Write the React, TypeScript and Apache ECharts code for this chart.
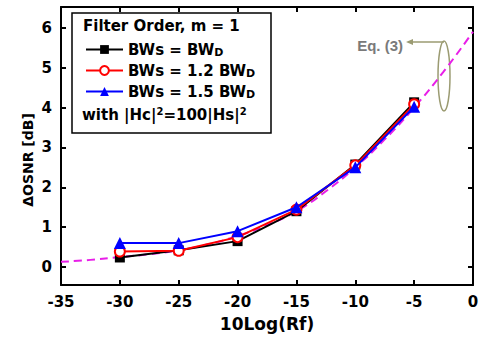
import React, { useEffect, useRef } from "react";
import * as echarts from "echarts";

const xValues = [-30, -25, -20, -15, -10, -5];
const bwD = [0.24, 0.42, 0.65, 1.4, 2.57, 4.13];
const bw12 = [0.39, 0.41, 0.75, 1.44, 2.55, 4.08];
const bw15 = [0.6, 0.6, 0.9, 1.5, 2.5, 4.02];
const eqX = [-35, -32.5, -30, -27.5, -25, -22.5, -20, -17.5, -15, -12.5, -10, -7.5, -5, -2.5, 0];
const eqY = [0.13, 0.18, 0.25, 0.32, 0.42, 0.57, 0.78, 1.05, 1.4, 1.9, 2.5, 3.2, 4.0, 4.9, 5.9];
const yTicks = [0, 1, 2, 3, 4, 5, 6];
const seriesNames = ["BWs = BWD", "BWs = 1.2 BWD", "BWs = 1.5 BWD"];

const FONT = "DejaVu Sans, sans-serif";

export default function App() {
  const ref = useRef<HTMLDivElement>(null);
  useEffect(() => {
    if (!ref.current) return;
    const chart = echarts.init(ref.current, undefined, { renderer: "svg" });
    const pair = (xs: number[], ys: number[]) => xs.map((x, i) => [x, ys[i]]);
    const axisLine = { show: true, onZero: false, lineStyle: { color: "#000", width: 2 } };
    const axisTick = { show: true, inside: true, length: 5, lineStyle: { color: "#000", width: 2 } };
    const labelStyle = { fontSize: 15, fontWeight: "bold", fontFamily: FONT, color: "#000" };
    const richLegend = {
      t: { fontSize: 15, fontWeight: "bold", fontFamily: FONT, color: "#000" },
      s: { fontSize: 11, fontWeight: "bold", fontFamily: FONT, color: "#000", verticalAlign: "bottom", padding: [6, 0, 0, 0] },
    };
    chart.setOption({
      animation: false,
      backgroundColor: "#fff",
      grid: { left: 61, right: 9, top: 7, bottom: 54 },
      xAxis: [
        {
          type: "value",
          min: -35,
          max: 0,
          interval: 5,
          name: "10Log(Rf)",
          nameLocation: "middle",
          nameGap: 30,
          nameTextStyle: { fontSize: 17, fontWeight: "bold", fontFamily: FONT, color: "#000" },
          axisLine,
          axisTick,
          splitLine: { show: false },
          axisLabel: { ...labelStyle, margin: 9, showMinLabel: true, showMaxLabel: true, hideOverlap: false },
        },
        {
          type: "value",
          position: "top",
          min: -35,
          max: 0,
          interval: 5,
          axisLine,
          axisTick,
          splitLine: { show: false },
          axisLabel: { show: false },
        },
      ],
      yAxis: [
        {
          type: "value",
          min: -0.45,
          max: 6.52,
          name: "ΔOSNR [dB]",
          nameLocation: "middle",
          nameGap: 26,
          nameMoveOverlap: false,
          nameTextStyle: {
            fontSize: 14,
            fontWeight: "bold",
            fontFamily: FONT,
            color: "#000",
            padding: [0, 28, 0, 0],
          },
          axisLine,
          axisTick: { ...axisTick, customValues: yTicks },
          splitLine: { show: false },
          axisLabel: { ...labelStyle, margin: 9, customValues: yTicks },
        },
        {
          type: "value",
          position: "right",
          min: -0.45,
          max: 6.52,
          axisLine,
          axisTick: { ...axisTick, customValues: yTicks },
          splitLine: { show: false },
          axisLabel: { show: false },
        },
      ],
      legend: {
        orient: "vertical",
        left: 80,
        top: 37,
        itemGap: 5,
        itemWidth: 37,
        itemHeight: 11,
        data: seriesNames,
        textStyle: { rich: richLegend },
        formatter: (name: string) => `{t|${name.slice(0, -1)}}{s|D}`,
      },
      series: [
        {
          name: "Eq. (3)",
          type: "line",
          smooth: true,
          showSymbol: false,
          data: pair(eqX, eqY),
          lineStyle: { color: "#e81ee8", width: 2, type: [8, 5] },
          itemStyle: { color: "#e81ee8" },
          z: 1,
        },
        {
          name: seriesNames[0],
          type: "line",
          data: pair(xValues, bwD),
          symbol: "rect",
          symbolSize: 10,
          lineStyle: { color: "#000", width: 2 },
          itemStyle: { color: "#000" },
          z: 2,
        },
        {
          name: seriesNames[1],
          type: "line",
          data: pair(xValues, bw12),
          symbol: "circle",
          symbolSize: 10,
          lineStyle: { color: "#f00", width: 2 },
          itemStyle: { color: "#fff", borderColor: "#f00", borderWidth: 2 },
          z: 3,
        },
        {
          name: seriesNames[2],
          type: "line",
          data: pair(xValues, bw15),
          symbol: "triangle",
          symbolSize: 12,
          lineStyle: { color: "#0000ff", width: 2 },
          itemStyle: { color: "#0000ff" },
          z: 4,
        },
      ],
      graphic: [
        {
          type: "rect",
          shape: { x: 72, y: 13, width: 199, height: 120 },
          style: { fill: "#fff", stroke: "#000", lineWidth: 1.5 },
          z: 0,
        },
        {
          type: "text",
          x: 83,
          y: 18,
          style: { text: "Filter Order, m = 1", fontSize: 15, fontWeight: "bold", fontFamily: FONT, fill: "#000" },
          z: 10,
        },
        {
          type: "text",
          x: 82,
          y: 106,
          style: {
            text: "{t|with |Hc|}{p|2}{t|=100|Hs|}{p|2}",
            rich: {
              t: { fontSize: 15, fontWeight: "bold", fontFamily: FONT, fill: "#000" },
              p: { fontSize: 10, fontWeight: "bold", fontFamily: FONT, fill: "#000", verticalAlign: "top", padding: [0, 0, 8, 0] },
            },
          },
          z: 10,
        },
        {
          type: "text",
          x: 403,
          y: 45,
          style: {
            text: "Eq. (3)",
            fontSize: 15,
            fontWeight: "bold",
            fontFamily: "Liberation Sans, Arial, sans-serif",
            fill: "#7a7a7a",
            align: "right",
            verticalAlign: "middle",
          },
        },
        {
          type: "ellipse",
          shape: { cx: 444, cy: 76, rx: 6, ry: 35 },
          style: { fill: "none", stroke: "#9b9b72", lineWidth: 1.5 },
        },
        {
          type: "line",
          shape: { x1: 444, y1: 42, x2: 410, y2: 42 },
          style: { stroke: "#9b9b72", lineWidth: 1.5 },
        },
        {
          type: "polygon",
          shape: { points: [[406, 42], [413, 39], [413, 45]] },
          style: { fill: "#9b9b72" },
        },
      ],
    });
    return () => chart.dispose();
  }, []);
  return (
    <div
      ref={ref}
      style={{ position: "absolute", left: 0, top: 0, width: 482, height: 339 }}
    />
  );
}
